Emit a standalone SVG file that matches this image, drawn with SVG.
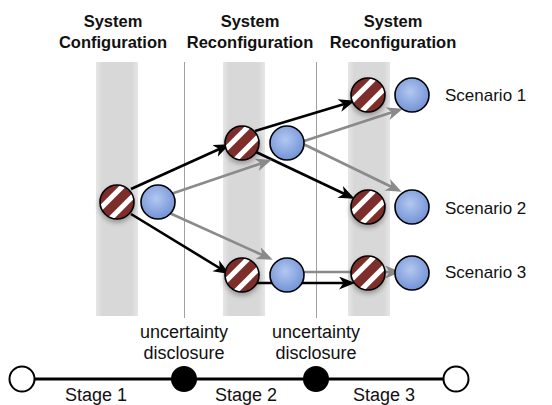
<svg xmlns="http://www.w3.org/2000/svg" xmlns:xlink="http://www.w3.org/1999/xlink" width="552" height="405" viewBox="0 0 552 405">
<style>
.title{font-family:"Liberation Sans",Arial,sans-serif;font-weight:bold;font-size:16.5px;text-anchor:middle;fill:#111}
.lbl{font-family:"Liberation Sans",Arial,sans-serif;font-size:17px;fill:#111}
.lbl2{font-family:"Liberation Sans",Arial,sans-serif;font-size:18px;fill:#111;text-anchor:middle}
.band{fill:url(#bandGrad)}
.vline{stroke:#a0a0a0;stroke-width:1}
.blk{stroke:#000;stroke-width:2.6;fill:none;marker-end:url(#ahB)}
.gry{stroke:#8a8a8a;stroke-width:2.6;fill:none;marker-end:url(#ahG)}
.tl{stroke:#000;stroke-width:3}
</style>
<defs>
<linearGradient id="bandGrad" x1="0" y1="0" x2="1" y2="0">
<stop offset="0" stop-color="#e6e6e6"/>
<stop offset="0.15" stop-color="#d8d8d8"/>
<stop offset="0.85" stop-color="#d8d8d8"/>
<stop offset="1" stop-color="#e6e6e6"/>
</linearGradient>
<radialGradient id="blueGrad" cx="0.45" cy="0.4" r="0.6">
<stop offset="0" stop-color="#b3c8f0"/>
<stop offset="1" stop-color="#7393d8"/>
</radialGradient>
<filter id="shadow" x="-50%" y="-50%" width="200%" height="200%">
<feDropShadow dx="0" dy="3" stdDeviation="2.5" flood-color="#000" flood-opacity="0.3"/>
</filter>
<clipPath id="cc"><circle r="17"/></clipPath>
<g id="striped">
<circle r="17" fill="#7d2e2b"/>
<g clip-path="url(#cc)"><g transform="rotate(-45)">
<rect x="-20" y="-9.8" width="40" height="5.2" fill="#fff"/>
<rect x="-20" y="4.6" width="40" height="5.2" fill="#fff"/>
</g></g>
<circle r="17" fill="none" stroke="#000" stroke-width="1.6"/>
</g>
<g id="blue">
<circle r="17" fill="url(#blueGrad)" stroke="#000" stroke-width="1.6"/>
</g>
<marker id="ahB" markerUnits="userSpaceOnUse" markerWidth="16" markerHeight="14" refX="12" refY="6.5" orient="auto">
<path d="M0,0 L16,6.5 L0,13 L4.5,6.5 Z" fill="#000"/>
</marker>
<marker id="ahG" markerUnits="userSpaceOnUse" markerWidth="16" markerHeight="14" refX="12" refY="6.5" orient="auto">
<path d="M0,0 L16,6.5 L0,13 L4.5,6.5 Z" fill="#8a8a8a"/>
</marker>
</defs>
<rect width="552" height="405" fill="#fff"/>

<g id="bands">
<rect class="band" x="96" y="62" width="42" height="254"/>
<rect class="band" x="223" y="62" width="42" height="254"/>
<rect class="band" x="348" y="62" width="42" height="254"/>
<line class="vline" x1="184.5" y1="62" x2="184.5" y2="318"/>
<line class="vline" x1="316.5" y1="62" x2="316.5" y2="318"/>
</g>

<g id="titles">
<text class="title" x="113" y="26.5">System</text>
<text class="title" x="113" y="47.5">Configuration</text>
<text class="title" x="250" y="26.5">System</text>
<text class="title" x="250" y="47.5">Reconfiguration</text>
<text class="title" x="393" y="26.5">System</text>
<text class="title" x="393" y="47.5">Reconfiguration</text>
</g>

<g id="connectors">
<line class="blk" x1="131" y1="189" x2="226" y2="146"/>
<line class="blk" x1="131" y1="214" x2="226" y2="272"/>
<line class="blk" x1="255" y1="131" x2="351" y2="102"/>
<line class="blk" x1="256" y1="152" x2="351" y2="197"/>
<line class="blk" x1="257" y1="283" x2="351" y2="283"/>
<line class="gry" x1="165" y1="196" x2="268" y2="161"/>
<line class="gry" x1="165" y1="211" x2="269" y2="258"/>
<line class="gry" x1="295" y1="144" x2="399" y2="110"/>
<line class="gry" x1="295" y1="140" x2="398" y2="190"/>
<line class="gry" x1="295" y1="272" x2="397" y2="272"/>
</g>

<g id="n1s" filter="url(#shadow)"><use xlink:href="#striped" x="117" y="202"/></g>
<g id="n1b"><use xlink:href="#blue" x="158" y="202"/></g>
<g id="n2s" filter="url(#shadow)"><use xlink:href="#striped" x="242" y="143"/></g>
<g id="n2b"><use xlink:href="#blue" x="287" y="143"/></g>
<g id="n3s" filter="url(#shadow)"><use xlink:href="#striped" x="242" y="275"/></g>
<g id="n3b"><use xlink:href="#blue" x="287" y="275"/></g>
<g id="s1s" filter="url(#shadow)"><use xlink:href="#striped" x="368" y="95"/></g>
<g id="s1b"><use xlink:href="#blue" x="412" y="95"/></g>
<g id="s2s" filter="url(#shadow)"><use xlink:href="#striped" x="368" y="207"/></g>
<g id="s2b"><use xlink:href="#blue" x="412" y="207"/></g>
<g id="s3s" filter="url(#shadow)"><use xlink:href="#striped" x="368" y="273"/></g>
<g id="s3b"><use xlink:href="#blue" x="412" y="273"/></g>

<g id="scenarios">
<text class="lbl" x="445" y="101">Scenario 1</text>
<text class="lbl" x="445" y="214">Scenario 2</text>
<text class="lbl" x="445" y="278">Scenario 3</text>
</g>

<g id="timeline">
<line class="tl" x1="22" y1="379" x2="456" y2="379"/>
<circle cx="22" cy="379" r="12.5" fill="#fff" stroke="#000" stroke-width="2"/>
<circle cx="456" cy="379" r="12.5" fill="#fff" stroke="#000" stroke-width="2"/>
<circle cx="184" cy="379" r="13" fill="#000"/>
<circle cx="316" cy="379" r="13" fill="#000"/>
<text class="lbl2" x="184" y="338">uncertainty</text>
<text class="lbl2" x="184" y="359">disclosure</text>
<text class="lbl2" x="316" y="338">uncertainty</text>
<text class="lbl2" x="316" y="359">disclosure</text>
<text class="lbl2" x="96" y="401">Stage 1</text>
<text class="lbl2" x="246" y="401">Stage 2</text>
<text class="lbl2" x="384" y="401">Stage 3</text>
</g>
</svg>
